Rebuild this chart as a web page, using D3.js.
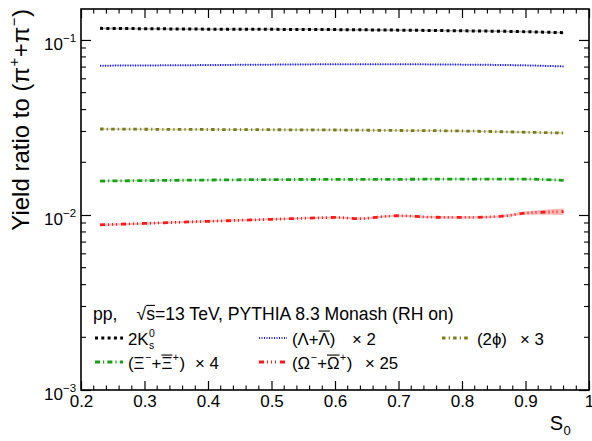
<!DOCTYPE html>
<html><head><meta charset="utf-8">
<script src="https://cdn.jsdelivr.net/npm/d3@7"></script>
<style>
html,body{margin:0;padding:0;background:#fff;}
svg{display:block;font-family:"Liberation Sans",Arial,sans-serif;}
</style></head>
<body><svg id="c" width="592" height="441"></svg>
<script>
// ---------------- data ----------------
const xTicks = [0.2,0.3,0.4,0.5,0.6,0.7,0.8,0.9,1.0];
const yTicks = [1e-3,1e-2,1e-1];
const yTickExp = ["\u22123","\u22122","\u22121"];

const s0K = [0.23,0.30,0.40,0.50,0.60,0.70,0.80,0.90,0.96];
const valK = [0.1165,0.1160,0.1153,0.1150,0.1146,0.1138,0.1128,0.1115,0.1100];

const s0L = [0.23,0.30,0.40,0.50,0.60,0.70,0.80,0.90,0.96];
const valL = [0.0713,0.0715,0.0719,0.0723,0.0726,0.0726,0.0723,0.0716,0.0706];

const s0Phi = [0.23,0.30,0.40,0.50,0.60,0.70,0.80,0.90,0.96];
const valPhi = [0.0310,0.0309,0.0308,0.0307,0.0306,0.0304,0.0302,0.0297,0.0294];

const s0Xi = [0.23,0.30,0.40,0.47,0.55,0.64,0.72,0.79,0.90,0.96];
const valXi = [0.01563,0.01572,0.01584,0.01591,0.01595,0.01597,0.01600,0.01604,0.01603,0.01576];

const s0Om = [0.23,0.30,0.40,0.50,0.56,0.60,0.64,0.67,0.70,0.75,0.80,0.84,0.87,0.90,0.93,0.96];
const valOm = [0.00878,0.00895,0.00920,0.00945,0.00960,0.00968,0.00953,0.00975,0.00990,0.00972,0.00968,0.00973,0.00990,0.01025,0.01038,0.01045];
const errOm = [0.00012,0.00012,0.00012,0.00012,0.00012,0.00013,0.00013,0.00013,0.00014,0.00014,0.00014,0.00015,0.00017,0.00022,0.00035,0.00045];
</script>
<script>
const seriesList = [
  {x:s0K,  y:valK,  rel:0.010, color:"#000000", dash:"3,3.3", w:3},
  {x:s0L,  y:valL,  rel:0.008, color:"#1a1aff", dash:"1,1.5", w:2},
  {x:s0Phi,y:valPhi,rel:0.010, color:"#7a7a1c", dash:"3.5,3.2,1.2,3.2", w:2.8},
  {x:s0Xi, y:valXi, rel:0.010, color:"#1a9e1a", dash:"5,3,1.2,3.2", w:2.8},
  {x:s0Om, y:valOm, err:errOm, color:"#ff1a1a", dash:"5,3,1,3,1,3,1,4", w:2.8}
];

const svg = d3.select("#c");
const L=81,R=589,T=9,B=390;
const x = d3.scaleLinear().domain([0.2,1.0]).range([L,R]);
const y = d3.scaleLog().domain([1e-3,0.1503]).range([B,T]);
const FF = '"Liberation Sans",Arial,sans-serif';

function rich(g, segs, fs){
  let cx=0;
  segs.forEach(s=>{
    if(s.sp){cx+=s.sp;}
    if(s.t!==undefined){
      const el=g.append("text").attr("x",cx).attr("y",0).style("font-size",fs+"px").text(s.t);
      const w=el.node().getComputedTextLength();
      if(s.over){
        const a=s.oa||0,b=s.ob||0;
        g.append("line").attr("x1",cx+a).attr("x2",cx+w-b)
          .attr("y1",-0.80*fs).attr("y2",-0.80*fs).attr("stroke","#000").attr("stroke-width",1.1);
      }
      cx+=w;
    }
    if(s.sup!==undefined||s.sub!==undefined){
      let w1=0,w2=0;const sf=fs*0.62;
      if(s.sup!==undefined){const e=g.append("text").attr("x",cx+0.5).attr("y",-0.42*fs).style("font-size",sf+"px").text(s.sup);w1=e.node().getComputedTextLength();}
      if(s.sub!==undefined){const e=g.append("text").attr("x",cx+0.5).attr("y",0.28*fs).style("font-size",sf+"px").text(s.sub);w2=e.node().getComputedTextLength();}
      cx+=Math.max(w1,w2)+1;
    }
  });
  return cx;
}

// clip
svg.append("clipPath").attr("id","clip").append("rect").attr("x",L).attr("y",T).attr("width",R-L).attr("height",B-T);
const plot = svg.append("g").attr("clip-path","url(#clip)");

seriesList.forEach(s=>{
  const pts = s.x.map((v,i)=>({x:v,y:s.y[i],e: s.err? s.err[i] : s.y[i]*s.rel}));
  const area = d3.area().x(d=>x(d.x)).y0(d=>y(d.y-d.e)).y1(d=>y(d.y+d.e)).curve(d3.curveMonotoneX);
  plot.append("path").datum(pts).attr("d",area).attr("fill",s.color).attr("fill-opacity",0.3);
  const line = d3.line().x(d=>x(d.x)).y(d=>y(d.y)).curve(d3.curveMonotoneX);
  plot.append("path").datum(pts).attr("d",line).attr("fill","none").attr("stroke",s.color)
    .attr("stroke-width",s.w).attr("stroke-dasharray",s.dash);
});

// axes
const fmtX = d=> d===1?"1":d.toFixed(1);
const gx = svg.append("g").attr("transform",`translate(0,${B})`)
  .call(d3.axisBottom(x).tickValues(xTicks).tickSizeInner(-9).tickSizeOuter(0).tickPadding(4.5).tickFormat(fmtX));
gx.selectAll("text").style("font-size","17px").style("font-family",FF).attr("fill","#000");
gx.select(".domain").remove();
gx.selectAll(".tick line").attr("stroke-width",1.2);
const gxt = svg.append("g").attr("transform",`translate(0,${T})`)
  .call(d3.axisTop(x).tickValues(xTicks).tickSizeInner(-9).tickSizeOuter(0).tickFormat(""));
gxt.select(".domain").remove();
gxt.selectAll(".tick line").attr("stroke-width",1.2);
// minor x
const xMinor = d3.range(0.2,1.0001,0.02).filter(v=>Math.abs(v*10-Math.round(v*10))>1e-6);
svg.append("g").selectAll("line").data(xMinor).join("line")
  .attr("x1",d=>x(d)).attr("x2",d=>x(d)).attr("y1",B).attr("y2",B-4.5).attr("stroke","#000").attr("stroke-width",1.1);
svg.append("g").selectAll("line").data(xMinor).join("line")
  .attr("x1",d=>x(d)).attr("x2",d=>x(d)).attr("y1",T).attr("y2",T+4.5).attr("stroke","#000").attr("stroke-width",1.1);

const gy = svg.append("g").attr("transform",`translate(${L},0)`)
  .call(d3.axisLeft(y).tickValues(yTicks).tickSizeInner(-10).tickSizeOuter(0).tickFormat(""));
gy.select(".domain").remove();
gy.selectAll(".tick line").attr("stroke-width",1.2);
const gyr = svg.append("g").attr("transform",`translate(${R},0)`)
  .call(d3.axisRight(y).tickValues(yTicks).tickSizeInner(-10).tickSizeOuter(0).tickFormat(""));
gyr.select(".domain").remove();
gyr.selectAll(".tick line").attr("stroke-width",1.2);
const yMinor=[];
[1e-3,1e-2,1e-1].forEach(d=>{for(let k=2;k<=9;k++){const v=d*k;if(v<y.domain()[1])yMinor.push(v);}});
svg.append("g").selectAll("line").data(yMinor).join("line")
  .attr("x1",L).attr("x2",L+5).attr("y1",d=>y(d)).attr("y2",d=>y(d)).attr("stroke","#000").attr("stroke-width",1.1);
svg.append("g").selectAll("line").data(yMinor).join("line")
  .attr("x1",R).attr("x2",R-5).attr("y1",d=>y(d)).attr("y2",d=>y(d)).attr("stroke","#000").attr("stroke-width",1.1);

// y tick labels 10^n
yTicks.forEach((v,i)=>{
  const g = svg.append("g").style("font-family",FF).attr("fill","#000");
  g.append("text").attr("text-anchor","end").attr("x",63).attr("y",y(v)+9.8).style("font-size","17px").text("10");
  g.append("text").attr("x",63).attr("y",y(v)+1.8).style("font-size","11.5px").text(yTickExp[i]);
});

// frame
svg.append("rect").attr("x",L).attr("y",T).attr("width",R-L).attr("height",B-T)
  .attr("fill","none").attr("stroke","#000").attr("stroke-width",1.6);

// y title
{
  const g = svg.append("g").style("font-family",FF).attr("fill","#000");
  const w = rich(g,[{t:"Yield ratio to (\u03C0"},{sup:"+"},{t:"+\u03C0"},{sup:"\u2212"},{t:")"}],24);
  g.attr("transform",`translate(29,${9+w}) rotate(-90)`);
}
// x title
{
  const g = svg.append("g").style("font-family",FF).attr("fill","#000");
  const w = rich(g,[{t:"S"},{sub:"0"}],20);
  g.selectAll("text").filter(function(){return this.textContent==="0";}).style("font-size","13px").attr("y",5);
  g.attr("transform",`translate(${571-w},430)`);
}

// legend header
{
  const g = svg.append("g").style("font-family",FF).attr("fill","#000").attr("transform","translate(93,319.5)");
  rich(g,[{t:"pp,"},{sp:19},{t:"\u221A"},{t:"s",over:true},{t:"=13 TeV, PYTHIA 8.3 Monash (RH on)"}],17.6);
}
// legend entries
const legend = [
  {i:0, lx:95, ly:338, tx:128, ty:344.5, segs:[{t:"2K"},{sup:"0",sub:"s"}], mult:null},
  {i:1, lx:259, ly:338, tx:292, ty:344.5, segs:[{t:"(\u039B+"},{t:"\u039B",over:true},{t:")"}], mult:"2", mx:352},
  {i:2, lx:442, ly:338, tx:477, ty:344.5, segs:[{t:"(2\u03D5)"}], mult:"3", mx:520},
  {i:3, lx:95, ly:362, tx:128, ty:368.5, segs:[{t:"(\u039E"},{sup:"\u2212"},{t:"+"},{t:"\u039E",over:true},{sup:"+"},{t:")"}], mult:"4", mx:195},
  {i:4, lx:259, ly:362, tx:292, ty:368.5, segs:[{t:"(\u03A9"},{sup:"\u2212"},{t:"+"},{t:"\u03A9",over:true},{sup:"+"},{t:")"}], mult:"25", mx:365}
];
legend.forEach(e=>{
  const s = seriesList[e.i];
  svg.append("line").attr("x1",e.lx).attr("x2",e.lx+28).attr("y1",e.ly).attr("y2",e.ly)
    .attr("stroke",s.color).attr("stroke-width",s.w).attr("stroke-dasharray",s.dash);
  const g = svg.append("g").style("font-family",FF).attr("fill","#000").attr("transform",`translate(${e.tx},${e.ty})`);
  rich(g,e.segs,16.8);
  if(e.mult){
    svg.append("text").style("font-family",FF).style("font-size","16.8px").attr("x",e.mx).attr("y",e.ty).text("\u00D7 "+e.mult);
  }
});
</script>
</body></html>
